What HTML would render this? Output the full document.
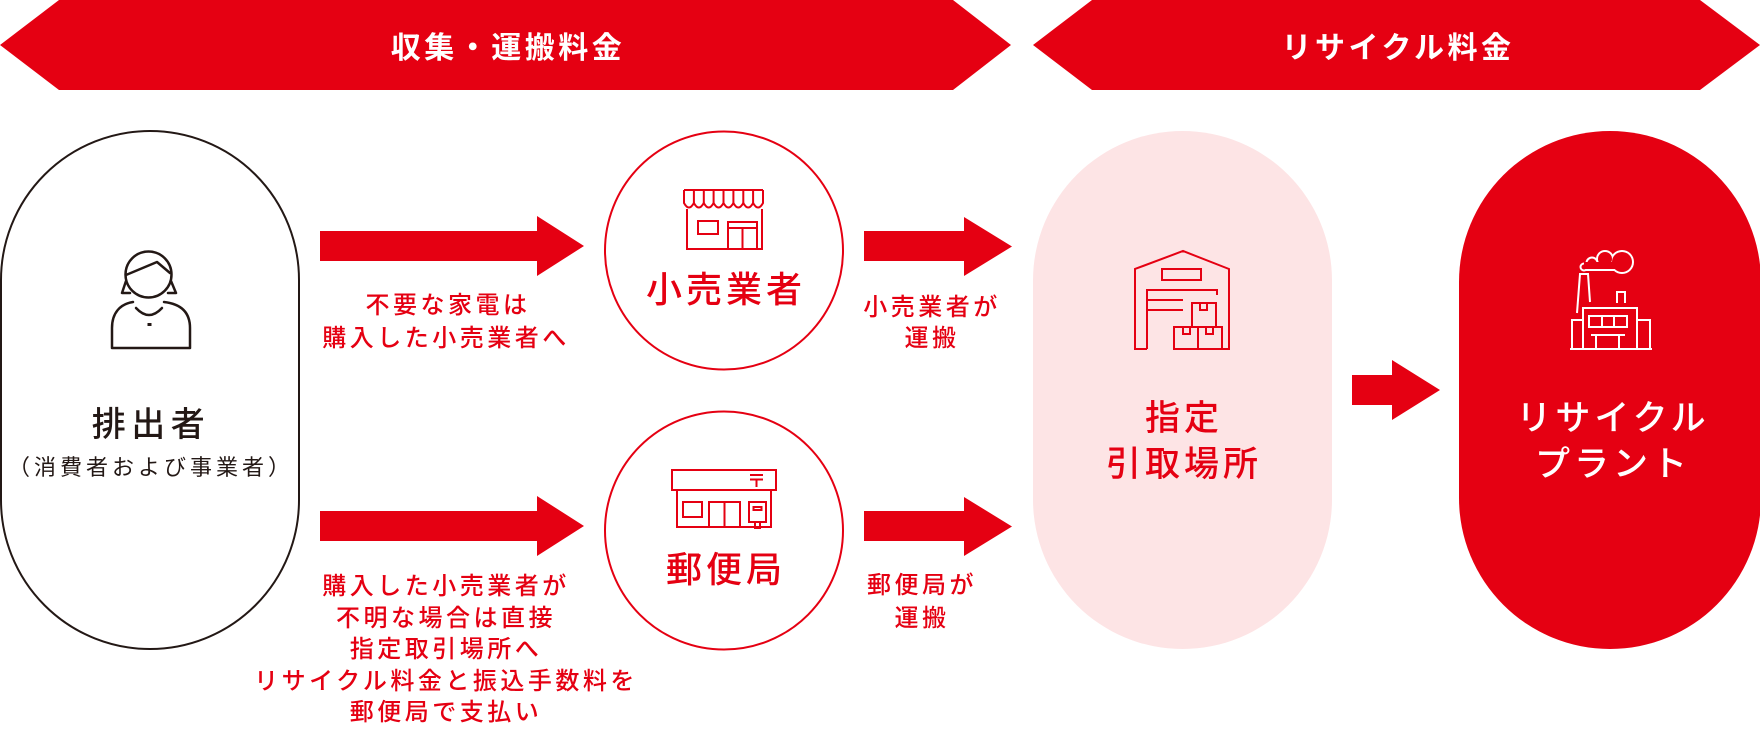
<!DOCTYPE html>
<html>
<head>
<meta charset="utf-8">
<style>
html,body{margin:0;padding:0;background:#fff;}
body{width:1760px;height:730px;overflow:hidden;}
svg{display:block;}
text{font-family:"Liberation Sans","Noto Sans CJK JP",sans-serif;}
</style>
</head>
<body>
<svg width="1760" height="730" viewBox="0 0 1760 730" xmlns="http://www.w3.org/2000/svg">
  <!-- Banners -->
  <polygon points="0,45 59,0 953,0 1011,45 953,90 59,90" fill="#e50012"/>
  <polygon points="1033,45 1092,0 1700,0 1760,45 1700,90 1092,90" fill="#e50012"/>
  <text x="508" y="58" font-size="30" font-weight="700" fill="#fff" text-anchor="middle" letter-spacing="3.5">収集・運搬料金</text>
  <text x="1398" y="58" font-size="30" font-weight="700" fill="#fff" text-anchor="middle" letter-spacing="3.5">リサイクル料金</text>

  <!-- Left pill -->
  <rect x="1" y="131" width="298" height="518" rx="149" ry="149" fill="#fff" stroke="#231815" stroke-width="2"/>

  <!-- Person icon -->
  <g fill="none" stroke="#231815" stroke-width="2.5" stroke-linecap="round" stroke-linejoin="round">
    <circle cx="148.5" cy="274.5" r="23"/>
    <polyline points="126,275 157,262 170,273"/>
    <polyline points="126,281 122,293 130,293"/>
    <polyline points="171,281 176,293 168,293"/>
    <path d="M133,302 C120,304 112,313 112,328 L112,348 L190,348 L190,328 C190,313 182,304 164,302"/>
    <path d="M136,308 Q149,322 162,308"/>
  </g>
  <rect x="147.5" y="323" width="4" height="3" fill="#231815"/>

  <text x="151" y="436" font-size="34" font-weight="500" fill="#231815" text-anchor="middle" letter-spacing="5.5">排出者</text>
  <text x="151" y="475" font-size="22" font-weight="400" fill="#231815" text-anchor="middle" letter-spacing="4">（消費者および事業者）</text>

  <!-- Arrows left -->
  <polygon points="320,231 537,231 537,216 584,246 537,276 537,261 320,261" fill="#e50012"/>
  <polygon points="320,511 537,511 537,496 584,526 537,556 537,541 320,541" fill="#e50012"/>

  <!-- Left labels -->
  <g font-size="24" font-weight="500" fill="#e50012" text-anchor="middle" letter-spacing="3.5">
    <text x="448" y="313">不要な家電は</text>
    <text x="446" y="346">購入した小売業者へ</text>
    <text x="446" y="594">購入した小売業者が</text>
    <text x="446" y="626">不明な場合は直接</text>
    <text x="446" y="657">指定取引場所へ</text>
    <text x="446" y="689">リサイクル料金と振込手数料を</text>
    <text x="446" y="720">郵便局で支払い</text>
  </g>

  <!-- Circles -->
  <circle cx="724" cy="250.5" r="119" fill="#fff" stroke="#e50012" stroke-width="2"/>
  <circle cx="724" cy="530.5" r="119" fill="#fff" stroke="#e50012" stroke-width="2"/>

  <!-- Store icon -->
  <g fill="none" stroke="#e50012" stroke-width="2">
    <path d="M684,190 H763 M684,190 V203 Q688.9,212 693.9,203 Q698.8,212 703.8,203 Q708.7,212 713.6,203 Q718.6,212 723.5,203 Q728.4,212 733.4,203 Q738.3,212 743.3,203 Q748.2,212 753.1,203 Q758.1,212 763,203 V190"/>
    <path d="M693.9,190 V203 M703.8,190 V203 M713.6,190 V203 M723.5,190 V203 M733.4,190 V203 M743.3,190 V203 M753.1,190 V203"/>
    <path d="M687,209 V249 H762 V209"/>
    <rect x="698" y="221" width="20" height="13"/>
    <path d="M728,249 V222 H757 V249 M728,228 H757 M742.5,228 V249"/>
  </g>
  <text x="726" y="302" font-size="36" font-weight="500" fill="#e50012" text-anchor="middle" letter-spacing="4">小売業者</text>

  <!-- Post office icon -->
  <g fill="none" stroke="#e50012" stroke-width="2">
    <rect x="672" y="470" width="104" height="20"/>
    <path d="M750,475 H763 M750,479.5 H763 M756.5,479.5 V487"/>
    <path d="M677,490 V527 H771 V490"/>
    <rect x="683" y="502" width="19" height="15"/>
    <path d="M709,527 V502 H740 V527 M724.5,502 V527"/>
    <rect x="749" y="502" width="17" height="20"/>
    <rect x="753.5" y="507" width="8" height="3"/>
    <path d="M755,522 V528 H760 V522"/>
  </g>
  <text x="726" y="582" font-size="36" font-weight="500" fill="#e50012" text-anchor="middle" letter-spacing="4">郵便局</text>

  <!-- Small arrows -->
  <polygon points="864,231 964,231 964,217 1012,246.5 964,276 964,261 864,261" fill="#e50012"/>
  <polygon points="864,511 964,511 964,497 1012,526.5 964,556 964,541 864,541" fill="#e50012"/>
  <g font-size="24" font-weight="500" fill="#e50012" text-anchor="middle" letter-spacing="3.5">
    <text x="932" y="315">小売業者が</text>
    <text x="932" y="346">運搬</text>
    <text x="922" y="593">郵便局が</text>
    <text x="922" y="626">運搬</text>
  </g>

  <!-- Pink pill -->
  <rect x="1033" y="131" width="299" height="518" rx="149.5" ry="149.5" fill="#fde4e5"/>
  <!-- Warehouse icon -->
  <g fill="none" stroke="#e50012" stroke-width="2" stroke-linejoin="miter">
    <path d="M1147,349 H1135 V269 L1183,251 L1229,269 V349 H1221"/>
    <path d="M1147,349 V290 H1217 V295"/>
    <rect x="1162" y="269" width="39" height="11"/>
    <path d="M1147,300 H1183 M1147,310 H1183"/>
    <rect x="1192" y="303" width="24" height="24"/>
    <rect x="1200" y="303" width="7" height="7"/>
    <rect x="1174" y="327" width="24" height="22"/>
    <rect x="1183" y="327" width="7" height="7"/>
    <rect x="1198" y="327" width="24" height="22"/>
    <rect x="1206" y="327" width="7" height="7"/>
  </g>
  <g font-size="35" font-weight="500" fill="#e50012" text-anchor="middle" letter-spacing="4">
    <text x="1184" y="430">指定</text>
    <text x="1184" y="476">引取場所</text>
  </g>

  <!-- Middle arrow -->
  <polygon points="1352,375 1392,375 1392,360 1440,390 1392,420 1392,405 1352,405" fill="#e50012"/>

  <!-- Red pill -->
  <rect x="1459" y="131" width="302" height="518" rx="151" ry="151" fill="#e50012"/>
  <!-- Factory icon: smoke cloud (union outline) -->
  <g fill="#fff">
    <circle cx="1622" cy="262" r="12"/>
    <circle cx="1605" cy="259" r="9"/>
    <circle cx="1592" cy="263" r="6.5"/>
    <circle cx="1584" cy="267" r="4.5"/>
    <rect x="1584" y="262" width="38" height="9"/>
  </g>
  <g fill="#e50012">
    <circle cx="1622" cy="262" r="10"/>
    <circle cx="1605" cy="259" r="7"/>
    <circle cx="1592" cy="263" r="4.5"/>
    <circle cx="1584" cy="267" r="2.5"/>
    <rect x="1584" y="262" width="38" height="7"/>
  </g>
  <g fill="none" stroke="#fff" stroke-width="2">
    <path d="M1577,313 L1580,274 H1588 L1590,302"/>
    <path d="M1617,303 V292 H1625 V303"/>
    <rect x="1583" y="308" width="54" height="41"/>
    <path d="M1572,349 V320 H1583 M1637,320 H1650 V349 M1570,349 H1652"/>
    <rect x="1589" y="316" width="38" height="11"/>
    <path d="M1602,316 V327 M1614,316 V327"/>
    <path d="M1591,335 H1625 M1596,335 V349 M1619,335 V349"/>
  </g>
  <g font-size="35" font-weight="500" fill="#fff" text-anchor="middle" letter-spacing="4">
    <text x="1613" y="430">リサイクル</text>
    <text x="1613" y="476">プラント</text>
  </g>
</svg>
</body>
</html>
